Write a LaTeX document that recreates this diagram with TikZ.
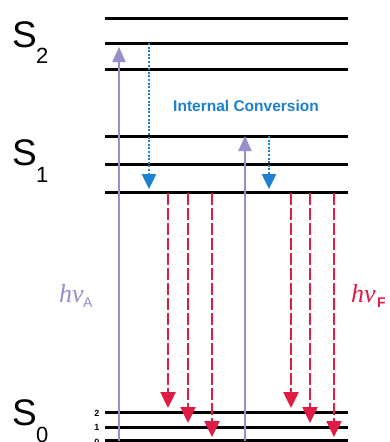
\documentclass[tikz,border=0pt]{standalone}
\usepackage{fontspec}
\setmainfont{Liberation Serif}
\setsansfont{Liberation Sans}
\usetikzlibrary{arrows.meta}
\definecolor{lvl}{RGB}{0,0,0}
\definecolor{absorb}{RGB}{152,142,204}
\definecolor{icblue}{RGB}{30,128,208}
\definecolor{fluor}{RGB}{222,28,68}
\tikzset{
  level/.style={draw=lvl,line width=3pt},
  absarrow/.style={draw=absorb,line width=2pt,-{Triangle[width=13pt,length=15pt]}},
  icarrow/.style={draw=icblue,line width=2.5pt,dash pattern=on 2pt off 1.6pt,-{Triangle[width=14pt,length=15pt]}},
  flarrow/.style={draw=fluor,line width=2.5pt,dash pattern=on 12pt off 3pt,-{Triangle[width=15pt,length=16pt]}},
  stxt/.style={font=\sffamily\fontsize{37}{37}\selectfont,inner sep=0pt,anchor=base west},
  subtxt/.style={font=\sffamily\fontsize{22}{22}\selectfont,inner sep=0pt,anchor=base west},
  vtxt/.style={font=\sffamily\bfseries\fontsize{9}{9}\selectfont,inner sep=0pt},
}
\begin{document}
\begin{tikzpicture}[x=1pt,y=-1pt]
\useasboundingbox[fill=white] (0,0) rectangle (389,442);
% levels
\foreach \n/\y in {s2a/18,s2b/43,s2c/69,s1a/136,s1b/164,s1c/192,s0a/412,s0b/427,s0c/440}{
  \coordinate (\n L) at (105,\y);
  \coordinate (\n R) at (348,\y);
  \draw[level] (\n L) -- (\n R);
}
% state labels
\node[stxt] (S2) at (12,47) {S};
\node[subtxt] (S2s) at (36,63) {2};
\node[stxt] (S1) at (12,165) {S};
\node[subtxt] (S1s) at (36,182) {1};
\node[stxt] (S0) at (12,425) {S};
\node[subtxt] (S0s) at (36,442) {0};
% vibrational labels
\node[vtxt] (v2) at (97,413) {2};
\node[vtxt] (v1) at (97,427) {1};
\node[vtxt] (v0) at (97,442) {0};
% absorption
\coordinate (a1s) at (119,441); \coordinate (a1e) at (119,47);
\coordinate (a2s) at (245,441); \coordinate (a2e) at (245,136);
\draw[absarrow] (a1s) -- (a1e);
\draw[absarrow] (a2s) -- (a2e);
% internal conversion
\coordinate (i1s) at (149,43); \coordinate (i1e) at (149,189);
\coordinate (i2s) at (269,136); \coordinate (i2e) at (269,189);
\draw[icarrow] (i1s) -- (i1e);
\draw[icarrow] (i2s) -- (i2e);
\node[font=\sffamily\bfseries\fontsize{15.5}{15.5}\selectfont,text=icblue,inner sep=0pt] (ic) at (246,106) {Internal Conversion};
% fluorescence
\foreach \n/\x/\y in {f1/168/408,f2/188/423,f3/212/437,f4/291/408,f5/310/423,f6/334/437}{
  \coordinate (\n s) at (\x,193);
  \coordinate (\n e) at (\x,\y);
  \draw[flarrow] (\n s) -- (\n e);
}
% photon labels
\node[font=\itshape\fontsize{26}{26}\selectfont,text=absorb,inner sep=0pt,anchor=base west] (hA) at (59,302) {hv};
\node[font=\sffamily\fontsize{14}{14}\selectfont,text=absorb,inner sep=0pt,anchor=base west] (hAs) at (83,307) {A};
\node[font=\itshape\fontsize{26}{26}\selectfont,text=fluor,inner sep=0pt,anchor=base west] (hF) at (351,302) {hv};
\node[font=\sffamily\bfseries\fontsize{14}{14}\selectfont,text=fluor,inner sep=0pt,anchor=base west] (hFs) at (377,307) {F};
\end{tikzpicture}
\end{document}
